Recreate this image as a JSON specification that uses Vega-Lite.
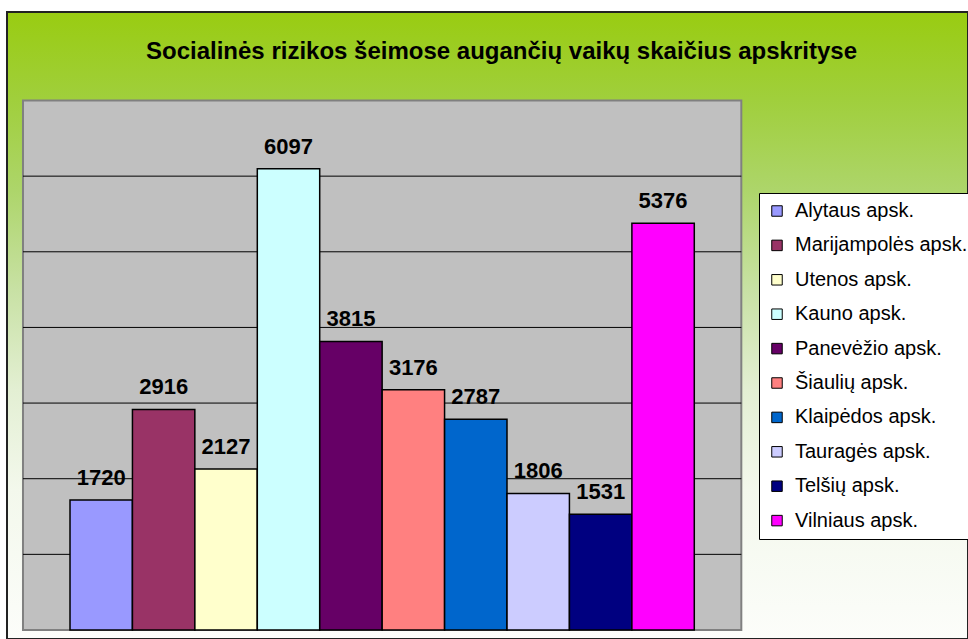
{
  "$schema": "https://vega.github.io/schema/vega-lite/v6.json",
  "width": 961,
  "height": 627,
  "autosize": {"type": "none"},
  "padding": {"left": 7, "top": 12, "right": 0, "bottom": 0},
  "background": "white",
  "view": {
    "fill": {
      "gradient": "linear",
      "x1": 0, "y1": 0, "x2": 0, "y2": 1,
      "stops": [
        {"offset": 0, "color": "#99cc11"},
        {"offset": 0.14, "color": "#a0cf3c"},
        {"offset": 0.284, "color": "#add56a"},
        {"offset": 0.443, "color": "#c8e1a4"},
        {"offset": 0.603, "color": "#e3efd3"},
        {"offset": 0.762, "color": "#f3f8ec"},
        {"offset": 1, "color": "#fcfdfa"}
      ]
    },
    "stroke": "#222222",
    "strokeWidth": 2
  },
  "title": {
    "text": "Socialinės rizikos šeimose augančių vaikų skaičius apskrityse",
    "anchor": "middle",
    "frame": "group",
    "offset": -71,
    "baseline": "alphabetic",
    "dx": 14,
    "font": "Liberation Sans",
    "fontSize": 24,
    "fontWeight": "bold",
    "color": "#000000"
  },
  "datasets": {
    "bars": [
      {"district": "Alytaus apsk.", "value": 1720, "pos": 0},
      {"district": "Marijampolės apsk.", "value": 2916, "pos": 1},
      {"district": "Utenos apsk.", "value": 2127, "pos": 2},
      {"district": "Kauno apsk.", "value": 6097, "pos": 3},
      {"district": "Panevėžio apsk.", "value": 3815, "pos": 4},
      {"district": "Šiaulių apsk.", "value": 3176, "pos": 5},
      {"district": "Klaipėdos apsk.", "value": 2787, "pos": 6},
      {"district": "Tauragės apsk.", "value": 1806, "pos": 7},
      {"district": "Telšių apsk.", "value": 1531, "pos": 8},
      {"district": "Vilniaus apsk.", "value": 5376, "pos": 9}
    ],
    "grid": [
      {"tick": 1000}, {"tick": 2000}, {"tick": 3000},
      {"tick": 4000}, {"tick": 5000}, {"tick": 6000}
    ]
  },
  "layer": [
    {
      "data": {"values": [{}]},
      "mark": {"type": "rect", "fill": "#c0c0c0", "stroke": "#808080", "strokeWidth": 2},
      "encoding": {
        "x": {"datum": -1.253, "type": "quantitative", "scale": {"domain": [-1.509, 13.884], "nice": false, "zero": false, "padding": 0}, "axis": null},
        "x2": {"datum": 10.253},
        "y": {"datum": 0, "type": "quantitative", "scale": {"domain": [-119, 8170], "nice": false, "zero": false, "padding": 0}, "axis": null},
        "y2": {"datum": 7000}
      }
    },
    {
      "data": {"name": "grid"},
      "mark": {"type": "rule", "color": "#000000", "strokeWidth": 1},
      "encoding": {
        "y": {"field": "tick", "type": "quantitative"},
        "x": {"datum": -1.253, "type": "quantitative"},
        "x2": {"datum": 10.253}
      }
    },
    {
      "data": {"name": "bars"},
      "mark": {"type": "bar", "size": 62.4, "stroke": "#000000", "strokeWidth": 1.5},
      "encoding": {
        "x": {"field": "pos", "type": "quantitative"},
        "y": {"field": "value", "type": "quantitative"},
        "y2": {"datum": 0},
        "color": {
          "field": "district",
          "type": "nominal",
          "scale": {
            "domain": ["Alytaus apsk.", "Marijampolės apsk.", "Utenos apsk.", "Kauno apsk.", "Panevėžio apsk.", "Šiaulių apsk.", "Klaipėdos apsk.", "Tauragės apsk.", "Telšių apsk.", "Vilniaus apsk."],
            "range": ["#9999ff", "#993366", "#ffffcc", "#ccffff", "#660066", "#ff8080", "#0066cc", "#ccccff", "#000080", "#ff00ff"]
          },
          "legend": {
            "title": null,
            "orient": "none",
            "legendX": 752,
            "legendY": 181,
            "padding": 8,
            "fillColor": "#ffffff",
            "strokeColor": "#000000",
            "symbolType": "square",
            "symbolSize": 110,
            "symbolStrokeColor": "#000000",
            "symbolStrokeWidth": 1,
            "symbolOpacity": 1,
            "labelFont": "Liberation Sans",
            "labelFontSize": 20,
            "labelColor": "#000000",
            "labelOffset": 8,
            "rowPadding": 14.4,
            "labelLimit": 300
          }
        }
      }
    },
    {
      "data": {"name": "bars"},
      "mark": {"type": "text", "dy": -15, "baseline": "alphabetic", "align": "center", "font": "Liberation Sans", "fontSize": 22, "fontWeight": "bold", "color": "#000000"},
      "encoding": {
        "x": {"field": "pos", "type": "quantitative"},
        "y": {"field": "value", "type": "quantitative"},
        "text": {"field": "value", "type": "quantitative", "format": "d"}
      }
    }
  ]
}
